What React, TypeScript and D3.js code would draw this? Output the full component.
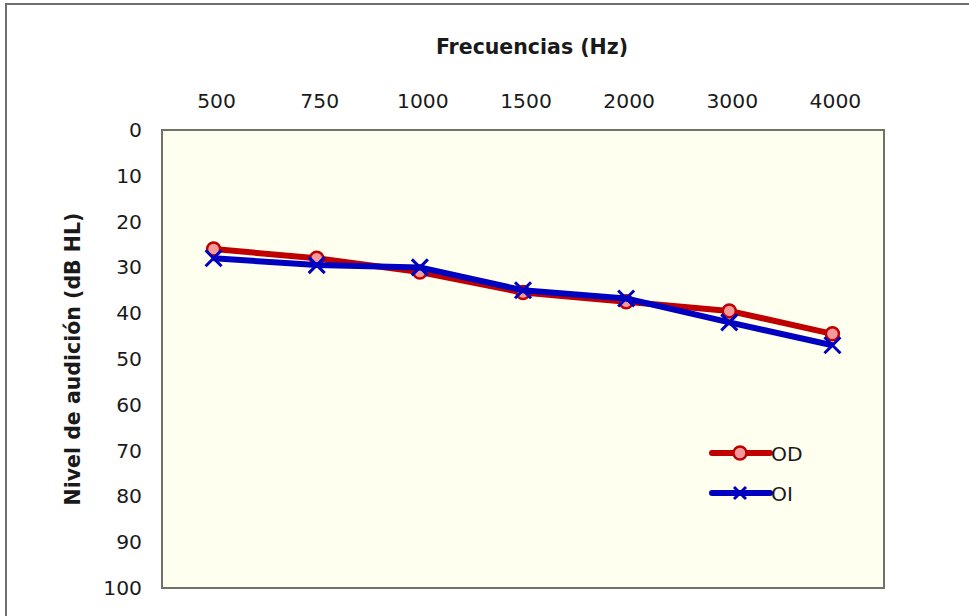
import React from "react";
import * as d3 from "d3";

const categories = ["500", "750", "1000", "1500", "2000", "3000", "4000"];
const odValues = [26, 28, 31, 35.5, 37.5, 39.5, 44.5];
const oiValues = [28, 29.5, 30, 35, 36.8, 42, 47];
const yTicks = [0, 10, 20, 30, 40, 50, 60, 70, 80, 90, 100];
const seriesNames = ["OD", "OI"];

const W = 969;
const H = 616;
const M = { left: 162, right: 884, top: 130, bottom: 588 };
const FONT = "'DejaVu Sans', Verdana, sans-serif";
const TICK_FS = 20.3;

export default function App() {
  const x = d3.scaleBand<string>().domain(categories).range([M.left, M.right]);
  const y = d3.scaleLinear().domain([0, 100]).range([M.top, M.bottom]);
  const cx = (c: string) => (x(c) as number) + x.bandwidth() / 2;
  const line = d3
    .line<number>()
    .x((_, i) => cx(categories[i]))
    .y((d) => y(d));

  const red = "#c00000";
  const redFill = "#f59a9a";
  const blue = "#0000c0";

  const xMark = (px: number, py: number, key: string, s = 8) => (
    <path
      key={key}
      d={`M${px - s},${py - s}L${px + s},${py + s}M${px - s},${py + s}L${px + s},${py - s}`}
      stroke={blue}
      strokeWidth={3}
      fill="none"
    />
  );

  return (
    <svg width={W} height={H} style={{ position: "absolute", left: 0, top: 0 }}>
      <rect x={0} y={0} width={W} height={H} fill="#ffffff" />
      <rect x={6} y={4} width={W + 20} height={H + 20} fill="#ffffff" stroke="#6f6f6f" strokeWidth={2} />
      <rect
        x={M.left}
        y={M.top}
        width={M.right - M.left}
        height={M.bottom - M.top}
        fill="#fffff0"
        stroke="#6e7268"
        strokeWidth={2}
      />
      <text
        x={532}
        y={54}
        textAnchor="middle"
        fontFamily={FONT}
        fontWeight="bold"
        fontSize={20.5}
        fill="#1a1a1a"
      >
        Frecuencias (Hz)
      </text>
      {categories.map((c) => (
        <text
          key={c}
          x={cx(c) + 3}
          y={108}
          textAnchor="middle"
          fontFamily={FONT}
          fontSize={TICK_FS}
          fill="#1a1a1a"
        >
          {c}
        </text>
      ))}
      {yTicks.map((t) => (
        <text
          key={t}
          x={142}
          y={y(t) + 7}
          textAnchor="end"
          fontFamily={FONT}
          fontSize={TICK_FS}
          fill="#1a1a1a"
        >
          {t}
        </text>
      ))}
      <text
        transform={`translate(80,${(M.top + M.bottom) / 2}) rotate(-90)`}
        textAnchor="middle"
        fontFamily={FONT}
        fontWeight="bold"
        fontSize={20.5}
        fill="#1a1a1a"
      >
        Nivel de audición (dB HL)
      </text>

      <path d={line(odValues) as string} fill="none" stroke={red} strokeWidth={6} strokeLinejoin="round" />
      {odValues.map((v, i) => (
        <circle key={"od" + i} cx={cx(categories[i])} cy={y(v)} r={6.5} fill={redFill} stroke={red} strokeWidth={2.5} />
      ))}
      <path d={line(oiValues) as string} fill="none" stroke={blue} strokeWidth={6} strokeLinejoin="round" />
      {oiValues.map((v, i) => xMark(cx(categories[i]), y(v), "oi" + i))}

      <g>
        <line x1={712} x2={770} y1={453} y2={453} stroke={red} strokeWidth={6} strokeLinecap="round" />
        <circle cx={740} cy={453} r={6.5} fill={redFill} stroke={red} strokeWidth={2.5} />
        <text x={771} y={461} fontFamily={FONT} fontSize={TICK_FS} fill="#1a1a1a">
          {seriesNames[0]}
        </text>
        <line x1={712} x2={770} y1={493} y2={493} stroke={blue} strokeWidth={6} strokeLinecap="round" />
        {xMark(740, 493, "leg", 6)}
        <text x={771} y={501} fontFamily={FONT} fontSize={TICK_FS} fill="#1a1a1a">
          {seriesNames[1]}
        </text>
      </g>
    </svg>
  );
}
